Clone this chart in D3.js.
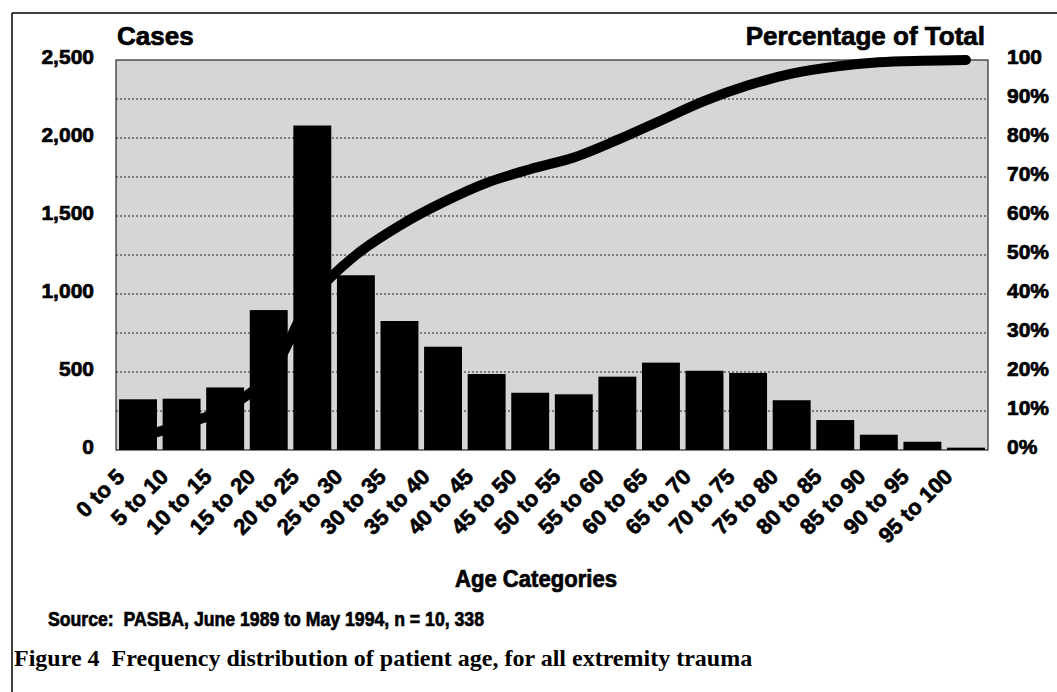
<!DOCTYPE html>
<html>
<head>
<meta charset="utf-8">
<script src="https://cdn.jsdelivr.net/npm/d3@7/dist/d3.min.js"></script>
<style>
  html, body { margin: 0; padding: 0; background: #fff; }
  svg { display: block; }
  .sans { font-family: "Liberation Sans", Arial, sans-serif; font-weight: 700; fill: #000; stroke: #000; stroke-width: 0.7; }
  .serif { font-family: "Liberation Serif", "Times New Roman", serif; font-weight: 700; fill: #000; }
  .grid line { stroke: #222; stroke-width: 1; stroke-dasharray: 2,2; }
</style>
</head>
<body>
<svg id="chart" width="1057" height="692"></svg>
<script>
// data
var categories = ["0 to 5", "5 to 10", "10 to 15", "15 to 20", "20 to 25", "25 to 30", "30 to 35",
  "35 to 40", "40 to 45", "45 to 50", "50 to 55", "55 to 60", "60 to 65", "65 to 70", "70 to 75",
  "75 to 80", "80 to 85", "85 to 90", "90 to 95", "95 to 100"];
var cases = [325, 329, 401, 897, 2080, 1120, 827, 662, 487, 367, 357, 470, 560, 508, 494, 319, 192, 98, 53, 15];
var cumulativePct = [3.2, 6.5, 10.5, 19, 39, 50, 57.5, 63.5, 68.5, 72, 75, 79.5, 84.5, 89.5, 93.5, 96.5, 98.3, 99.4, 99.8, 100];
var caseTicks = [0, 500, 1000, 1500, 2000, 2500];
var pctTicks = [0, 10, 20, 30, 40, 50, 60, 70, 80, 90, 100];
var pctTickLabels = ["0%", "10%", "20%", "30%", "40%", "50%", "60%", "70%", "80%", "90%", "100"];

var PLOT_LEFT = 116, PLOT_RIGHT = 988, PLOT_TOP = 60, PLOT_BOTTOM = 450;

var svg = d3.select("#chart");

// frame
svg.append("line").attr("x1", 12).attr("y1", 13).attr("x2", 1057).attr("y2", 13)
  .attr("stroke", "#000").attr("stroke-width", 1.5);
svg.append("line").attr("x1", 12).attr("y1", 13).attr("x2", 12).attr("y2", 692)
  .attr("stroke", "#000").attr("stroke-width", 1.5);

// stippled plot background, as a flat grey
svg.append("rect").attr("x", PLOT_LEFT).attr("y", PLOT_TOP)
  .attr("width", PLOT_RIGHT - PLOT_LEFT).attr("height", PLOT_BOTTOM - PLOT_TOP)
  .attr("fill", "#d6d6d6");

// scales
var x = d3.scaleBand().domain(categories).range([PLOT_LEFT, PLOT_RIGHT])
  .paddingInner(0.13).paddingOuter(0.07);
var yCases = d3.scaleLinear().domain([0, 2500]).range([PLOT_BOTTOM, PLOT_TOP]);
var yPct = d3.scaleLinear().domain([0, 100]).range([PLOT_BOTTOM, PLOT_TOP]);

// gridlines every 10%
svg.append("g").attr("class", "grid")
  .selectAll("line").data(pctTicks.filter(function (d) { return d > 0 && d < 100; }))
  .enter().append("line")
  .attr("x1", PLOT_LEFT).attr("x2", PLOT_RIGHT)
  .attr("y1", function (d) { return yPct(d); }).attr("y2", function (d) { return yPct(d); });

// cumulative line (drawn behind bars)
var line = d3.line()
  .x(function (d, i) { return x(categories[i]) + x.bandwidth() / 2; })
  .y(function (d) { return yPct(d); })
  .curve(d3.curveCatmullRom.alpha(0.5));
svg.append("path").datum(cumulativePct).attr("d", line)
  .attr("fill", "none").attr("stroke", "#000").attr("stroke-width", 10)
  .attr("stroke-linecap", "round").attr("stroke-linejoin", "round");

// bars
svg.selectAll("rect.bar").data(cases).enter().append("rect").attr("class", "bar")
  .attr("x", function (d, i) { return x(categories[i]); })
  .attr("y", function (d) { return yCases(d); })
  .attr("width", x.bandwidth())
  .attr("height", function (d) { return PLOT_BOTTOM - yCases(d); })
  .attr("fill", "#000");

// plot border
svg.append("rect").attr("x", PLOT_LEFT).attr("y", PLOT_TOP)
  .attr("width", PLOT_RIGHT - PLOT_LEFT).attr("height", PLOT_BOTTOM - PLOT_TOP)
  .attr("fill", "none").attr("stroke", "#000").attr("stroke-width", 1);

// left axis
var leftAxis = svg.append("g").attr("transform", "translate(" + PLOT_LEFT + ",0)")
  .call(d3.axisLeft(yCases).tickValues(caseTicks).tickFormat(d3.format(",")).tickSize(0).tickPadding(22));
leftAxis.select(".domain").remove();
leftAxis.selectAll("text").attr("class", "sans").attr("font-size", 21).attr("dy", "3").attr("dominant-baseline", "auto");

// right axis
var rightAxis = svg.append("g").attr("transform", "translate(" + PLOT_RIGHT + ",0)")
  .call(d3.axisRight(yPct).tickValues(pctTicks)
    .tickFormat(function (d, i) { return pctTickLabels[i]; }).tickSize(0).tickPadding(19));
rightAxis.select(".domain").remove();
rightAxis.selectAll("text").attr("class", "sans").attr("font-size", 21).attr("dy", "3").attr("dominant-baseline", "auto");

// x labels
svg.append("g").selectAll("text").data(categories).enter().append("text")
  .attr("class", "sans").attr("font-size", 22).attr("text-anchor", "end")
  .attr("transform", function (d) {
    return "translate(" + (x(d) + x.bandwidth() / 2 - 12) + ",478) rotate(-45)";
  })
  .text(function (d) { return d; });

// titles
svg.append("text").attr("class", "sans").attr("x", 117).attr("y", 45).attr("font-size", 26).text("Cases");
svg.append("text").attr("class", "sans").attr("x", 985).attr("y", 45).attr("font-size", 26)
  .attr("text-anchor", "end").text("Percentage of Total");
svg.append("text").attr("class", "sans").attr("x", 536).attr("y", 587).attr("font-size", 23)
  .attr("text-anchor", "middle").attr("textLength", 162).attr("lengthAdjust", "spacingAndGlyphs")
  .text("Age Categories");
svg.append("text").attr("class", "sans").attr("x", 48).attr("y", 626).attr("font-size", 21)
  .attr("textLength", 436).attr("lengthAdjust", "spacingAndGlyphs")
  .style("white-space", "pre")
  .text("Source:  PASBA, June 1989 to May 1994, n = 10, 338");
svg.append("text").attr("class", "serif").attr("x", 14).attr("y", 666).attr("font-size", 24)
  .style("white-space", "pre")
  .text("Figure 4  Frequency distribution of patient age, for all extremity trauma");
</script>
</body>
</html>
